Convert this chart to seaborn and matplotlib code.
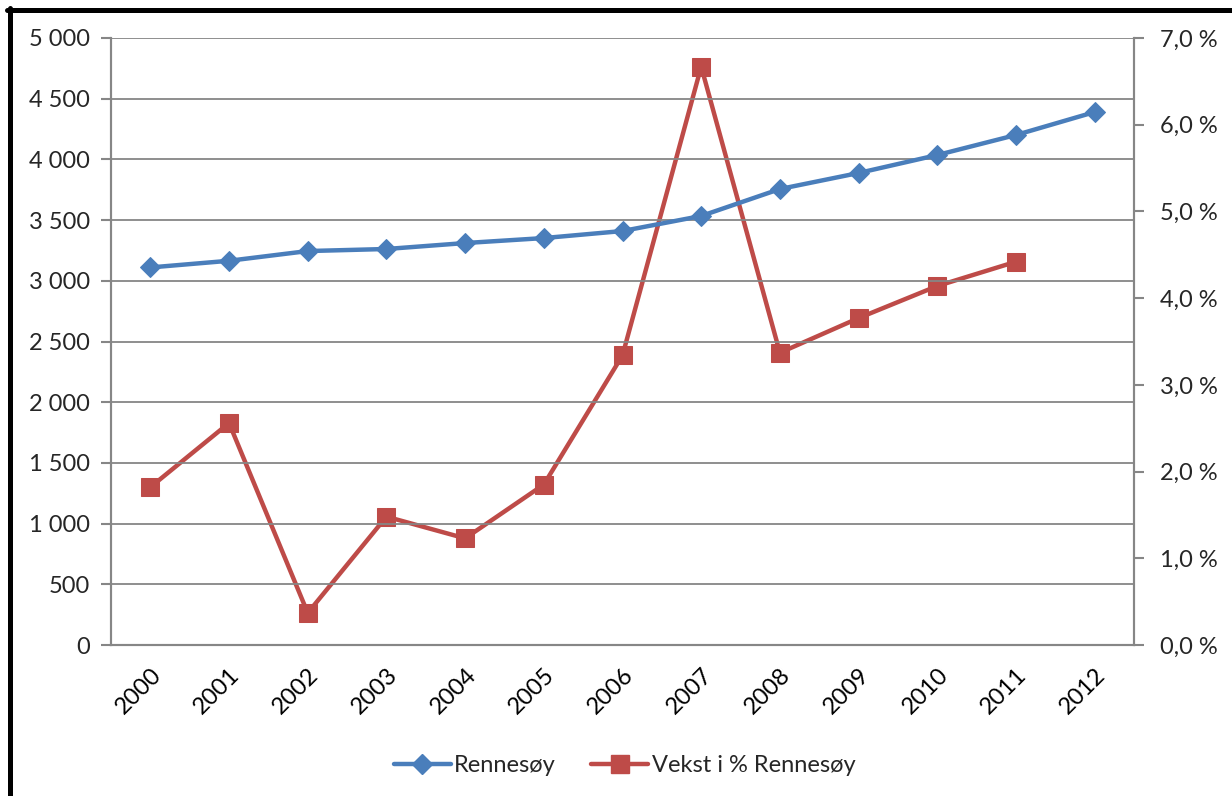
import matplotlib
matplotlib.use("Agg")
import matplotlib.pyplot as plt
import seaborn as sns
import pandas as pd
import numpy as np
from matplotlib.lines import Line2D
from matplotlib.ticker import FuncFormatter, MultipleLocator

years = ["2000", "2001", "2002", "2003", "2004", "2005", "2006",
         "2007", "2008", "2009", "2010", "2011", "2012"]
population = [3110, 3165, 3245, 3262, 3311, 3352, 3410, 3534, 3756, 3888, 4036, 4201, 4390]
growth_pct = [1.82, 2.56, 0.37, 1.48, 1.23, 1.85, 3.34, 6.67, 3.37, 3.77, 4.14, 4.42]

label_pop = "Rennesøy"
label_growth = "Vekst i % Rennesøy"

blue = "#4A7EBB"
red = "#BE4B48"
grid_col = "#868686"
FS = 17

sns.set_theme(style="white")
plt.rcParams['font.family'] = ['Lato', 'DejaVu Sans']

df_pop = pd.DataFrame({"idx": np.arange(len(years)), "val": population})
df_gr = pd.DataFrame({"idx": np.arange(len(growth_pct)), "val": growth_pct})

fig = plt.figure(figsize=(12.32, 7.96), dpi=100)
ax = fig.add_axes([111/1232, 1-645/796, (1134-111)/1232, (645-38)/796])
ax2 = ax.twinx()

sns.lineplot(data=df_pop, x="idx", y="val", ax=ax, color=blue, lw=3.2,
             marker="D", markersize=10, markeredgecolor=blue, zorder=5)
sns.lineplot(data=df_gr, x="idx", y="val", ax=ax2, color=red, lw=3.2,
             marker="s", markersize=12.5, markeredgecolor=red, zorder=4)

ax.set_xlim(-0.5, len(years) - 0.5)
ax.set_ylim(0, 5000)
ax2.set_ylim(0, 7)
ax.yaxis.set_major_locator(MultipleLocator(500))
ax2.yaxis.set_major_locator(MultipleLocator(1))

ax.yaxis.set_major_formatter(FuncFormatter(lambda v, p: f"{int(v):,}".replace(",", " ")))
ax2.yaxis.set_major_formatter(FuncFormatter(lambda v, p: f"{v:.1f}".replace(".", ",") + " %"))

ax.set_xticks(np.arange(len(years)))
ax.set_xticklabels(years, rotation=45, ha="right", va="top", rotation_mode="anchor")
ax.set_xticks(np.arange(len(years) + 1) - 0.5, minor=True)
ax.tick_params(axis="x", which="major", length=0, pad=14, labelsize=FS, colors="black")
ax.tick_params(axis="x", which="minor", length=7, width=1.5, color=grid_col, direction="out")
ax.tick_params(axis="y", length=7, width=1.5, color=grid_col, direction="out", pad=8, labelsize=FS)
ax2.tick_params(axis="y", length=7, width=1.5, color=grid_col, direction="out", pad=12, labelsize=FS)
for t in ax.get_xticklabels():
    t.set_color("black")

ax.grid(axis="y", color=grid_col, lw=1.3)
ax.grid(axis="x", visible=False)
ax2.grid(False)
ax.set_axisbelow(True)

for a in (ax, ax2):
    a.spines["top"].set_visible(False)
    for s in ("left", "right", "bottom"):
        a.spines[s].set_color(grid_col)
        a.spines[s].set_linewidth(1.5)
ax.set_xlabel("")
ax.set_ylabel("")
ax2.set_ylabel("")
ax.set_zorder(ax2.get_zorder() + 1)
ax.patch.set_visible(False)

handles = [
    Line2D([], [], color=blue, lw=3.2, marker="D", markersize=10, markeredgecolor=blue),
    Line2D([], [], color=red, lw=3.2, marker="s", markersize=12.5, markeredgecolor=red),
]
fig.legend(handles, [label_pop, label_growth], loc="center", bbox_to_anchor=(0.507, 1-766/796),
           ncol=2, frameon=False, fontsize=FS, handlelength=2.4, columnspacing=1.5, handletextpad=0.15)

# black border lines (left and top)
fig.add_artist(Line2D([9.5/1232, 9.5/1232], [0, 1-8/796], transform=fig.transFigure, color="black", lw=3.6))
fig.add_artist(Line2D([7/1232, 1], [1-10/796, 1-10/796], transform=fig.transFigure, color="black", lw=3.6))

fig.savefig("out.png", dpi=100)
